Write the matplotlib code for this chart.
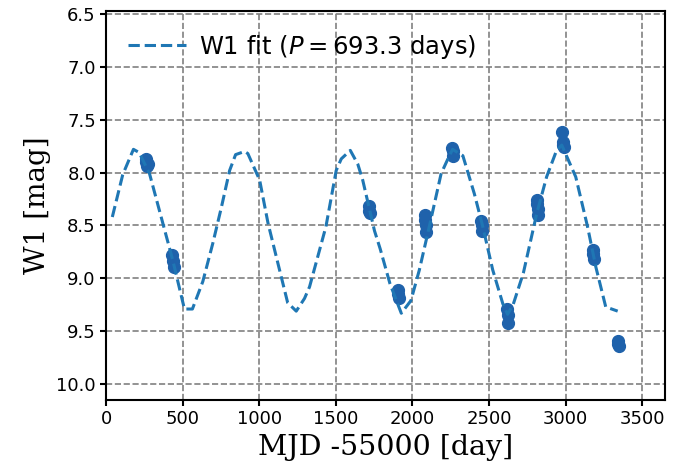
import matplotlib
matplotlib.use("Agg")
import matplotlib.pyplot as plt

# observed W1 epochs (MJD - 55000) and magnitudes
obs_day = [258, 263, 266, 270,
           433, 437, 440,
           1714, 1718, 1722,
           1904, 1908, 1912,
           2079, 2083, 2086, 2089,
           2259, 2263, 2266,
           2447, 2451, 2455,
           2618, 2622, 2625,
           2811, 2815, 2818, 2821,
           2977, 2981, 2984, 2987,
           3177, 3181, 3185,
           3340, 3344, 3348]
obs_mag = [7.87, 7.90, 7.94, 7.92,
           8.78, 8.84, 8.89,
           8.32, 8.36, 8.38,
           9.11, 9.15, 9.19,
           8.40, 8.45, 8.50, 8.56,
           7.77, 7.80, 7.84,
           8.46, 8.50, 8.55,
           9.29, 9.35, 9.42,
           8.26, 8.30, 8.34, 8.40,
           7.62, 7.71, 7.74, 7.76,
           8.73, 8.77, 8.82,
           9.59, 9.62, 9.64]

# sinusoidal fit, as drawn
fit_day = [40, 108, 178, 215, 283, 359, 435, 511, 563, 631,
           696, 752, 806, 845, 904, 925, 1002, 1057, 1132, 1185,
           1241, 1295, 1328, 1435, 1502, 1535, 1594, 1643, 1675, 1752,
           1789, 1853, 1927, 1990, 2045, 2110, 2187, 2241, 2262, 2329,
           2404, 2459, 2524, 2590, 2621, 2657, 2724, 2811, 2876, 2941,
           2975, 3066, 3143, 3197, 3262, 3340]
fit_mag = [8.42, 8.02, 7.78, 7.81, 8.01, 8.42, 8.83, 9.29, 9.29, 9.03,
           8.67, 8.33, 7.98, 7.83, 7.80, 7.82, 8.07, 8.48, 8.92, 9.23,
           9.31, 9.19, 9.08, 8.51, 7.98, 7.87, 7.79, 7.92, 8.07, 8.55,
           8.72, 9.05, 9.33, 9.21, 8.92, 8.51, 8.01, 7.84, 7.78, 7.84,
           8.20, 8.51, 8.92, 9.24, 9.34, 9.25, 8.95, 8.39, 8.04, 7.79,
           7.74, 8.04, 8.51, 8.89, 9.27, 9.31]
period = 693.3

fig = plt.figure(figsize=(6.94, 4.70), dpi=100)
ax = fig.add_axes([0.153, 0.149, 0.805, 0.828])

ax.plot(obs_day, obs_mag, 'o', color='#1f62ab', ms=8.5, zorder=2)
ax.plot(fit_day, fit_mag, '--', color='#1f77b4', lw=2.2, zorder=3,
        label=r'W1 fit ($P = %.1f$ days)' % period)

ax.set_xlim(0, 3648)
ax.set_ylim(10.15, 6.47)
ax.set_xticks(range(0, 3501, 500))
ax.set_yticks([6.5, 7.0, 7.5, 8.0, 8.5, 9.0, 9.5, 10.0])
ax.grid(True, color='gray', linestyle='--', lw=1.2)
ax.set_axisbelow(True)
for s in ax.spines.values():
    s.set_linewidth(1.5)
ax.tick_params(labelsize=13, width=1.5, length=4)

ax.set_xlabel('MJD -55000 [day]', family='DejaVu Serif', fontsize=20.5)
ax.set_ylabel('W1 [mag]', family='DejaVu Serif', fontsize=20)
ax.legend(loc='upper left', frameon=False, fontsize=17.5,
          handlelength=2.4, handletextpad=0.5)

fig.savefig('out.png', dpi=100)
